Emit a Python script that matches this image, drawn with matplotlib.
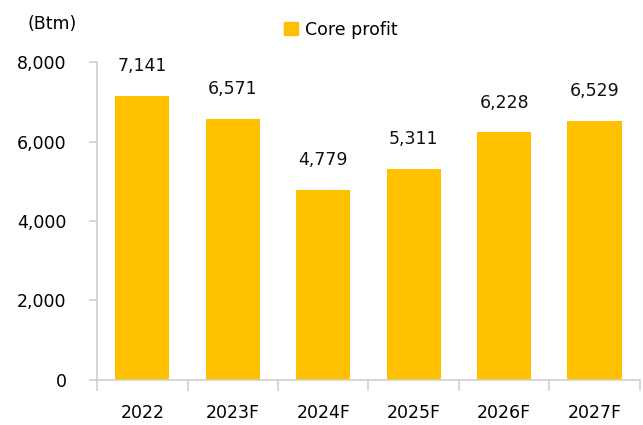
import matplotlib
matplotlib.use("Agg")
import matplotlib.pyplot as plt
from matplotlib.patches import Patch

categories = ["2022", "2023F", "2024F", "2025F", "2026F", "2027F"]
core_profit = [7141, 6571, 4779, 5311, 6228, 6529]
yticks = [0, 2000, 4000, 6000, 8000]

plt.rcParams['font.family'] = ['DejaVu Sans']
FS = 12.5

fig = plt.figure(figsize=(6.43, 4.25), dpi=100)
ax = fig.add_axes([0.151, 0.106, 0.844, 0.748])

x = list(range(len(categories)))
bars = ax.bar(x, core_profit, width=0.6, color="#FFC000", zorder=2)

for xi, v in zip(x, core_profit):
    ax.annotate(f"{v:,}", (xi, v), xytext=(0, 15), textcoords="offset points",
                ha="center", va="bottom", fontsize=FS, color="#111111")

ax.set_ylim(0, 8000)
ax.set_xlim(-0.5, len(categories) - 0.5)
ax.set_yticks(yticks)
ax.set_yticklabels([f"{t:,}" for t in yticks], fontsize=FS)
ax.tick_params(axis="y", length=6, width=1.2, color="#d0d0d0", pad=16)

ax.set_xticks([i - 0.5 for i in range(len(categories) + 1)])
ax.set_xticklabels([])
ax.set_xticks(x, minor=True)
ax.set_xticklabels(categories, minor=True, fontsize=FS)
ax.tick_params(axis="x", which="major", length=8, width=1.2, color="#d0d0d0")
ax.tick_params(axis="x", which="minor", length=0, pad=17)

for s in ["top", "right"]:
    ax.spines[s].set_visible(False)
for s in ["left", "bottom"]:
    ax.spines[s].set_color("#d0d0d0")
    ax.spines[s].set_linewidth(1.2)

fig.text(0.042, 0.944, "(Btm)", fontsize=FS, ha="left", va="center")
fig.legend(handles=[Patch(color="#FFC000", label="Core profit")],
           loc="center", bbox_to_anchor=(0.53, 0.93), frameon=False,
           fontsize=FS, handlelength=0.8, handleheight=0.8, handletextpad=0.4)

fig.savefig("out.png", dpi=100)
